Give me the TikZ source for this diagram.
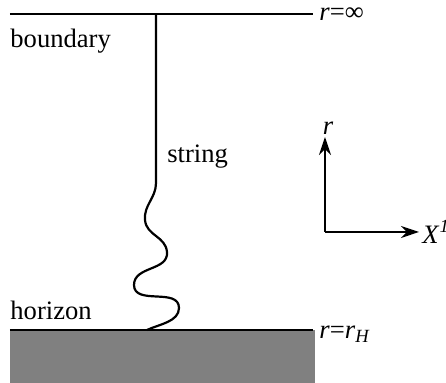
\documentclass[tikz,border=0pt]{standalone}
\usepackage{fontspec}
\setmainfont{Liberation Serif}
\usetikzlibrary{positioning,arrows.meta,calc}

\begin{document}
\begin{tikzpicture}[
  x=0.5pt, y=0.5pt,
  lbl/.style={font=\fontsize{13.3}{15}\selectfont, inner sep=0pt},
  edge/.style={line width=1.1pt},
  axis/.style={line width=1.1pt, -{Stealth[length=9pt,width=6pt]}}
]
\useasboundingbox (0,0) rectangle (446,383);
% horizon region
\fill[black!50] (10,0) rectangle (315,53);
\coordinate (bl) at (10,369);
\coordinate (br) at (313,369);
\coordinate (hl) at (10,53);
\coordinate (hr) at (313,53);
\draw[edge] (bl) -- (br);
\draw[edge] (hl) -- (hr);
\node[lbl, anchor=west] (rinf) at (319,369) {\textit{r}=∞};
\node[lbl, anchor=west] (rH) at (319,49) {\textit{r}=\textit{r}\textsubscript{\textit{H}}};
\node[lbl, anchor=base west] (bnd) at (10,335) {boundary};
\node[lbl, anchor=base west] (hor) at (10,63) {horizon};
% the string
\coordinate (top) at (156,369);
\coordinate (foot) at (147,53);
\node[lbl, anchor=base west] (str) at (167,220) {string};
\draw[edge] (top) -- (156,200)
  to[out=-90,in=95,looseness=1] (145,163)
  to[out=-85,in=95,looseness=1.05] (167,131)
  to[out=-85,in=90,looseness=1.05] (134,98)
  to[out=-90,in=90,looseness=1.05] (179,75)
  to[out=-90,in=25,looseness=0.9] (foot);
% axes
\coordinate (o) at (325,151);
\coordinate (rtip) at (325,246);
\coordinate (xtip) at (419,151);
\draw[axis] (o) -- (rtip);
\draw[axis] (o) -- (xtip);
\node[lbl, anchor=south] (rax) at ($(rtip)+(3,2)$) {\textit{r}};
\node[lbl, anchor=west] (xax) at ($(xtip)+(3,0)$) {\textit{X}\textsuperscript{\textit{1}}};
\end{tikzpicture}
\end{document}
